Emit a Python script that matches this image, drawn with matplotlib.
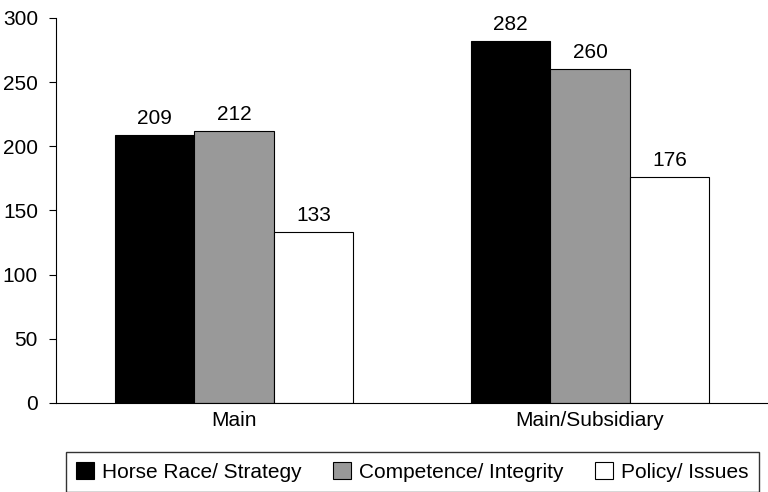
import numpy as np
import matplotlib.pyplot as plt

plt.rcParams['font.family'] = ['Liberation Sans', 'DejaVu Sans']

categories = ['Main', 'Main/Subsidiary']
series_names = ['Horse Race/ Strategy', 'Competence/ Integrity', 'Policy/ Issues']
horse_race = [209, 282]
competence = [212, 260]
policy = [133, 176]
colors = ['#000000', '#999999', '#ffffff']

fig = plt.figure(figsize=(7.68, 4.92), dpi=100)
ax = fig.add_axes([56 / 768, 1 - 403 / 492, 1 - 56 / 768, (403 - 18) / 492])

x = np.arange(len(categories))
width = 0.223
for i, (vals, name, col) in enumerate(zip([horse_race, competence, policy], series_names, colors)):
    bars = ax.bar(x + (i - 1) * width, vals, width, color=col, edgecolor='black',
                  linewidth=0.8, label=name)
    ax.bar_label(bars, padding=5, fontsize=15)

ax.set_xlim(-0.5, 1.5)
ax.set_ylim(0, 300)
ax.set_yticks(np.arange(0, 301, 50))
ax.set_xticks(x)
ax.set_xticklabels(categories)
ax.tick_params(axis='x', length=0, labelsize=15, pad=6)
ax.tick_params(axis='y', length=5, labelsize=15, pad=8)
ax.spines['top'].set_visible(False)
ax.spines['right'].set_visible(False)

leg = fig.legend(loc='upper left', bbox_to_anchor=(66 / 768, 1 - 452 / 492),
                 bbox_transform=fig.transFigure, ncol=3, fontsize=15, frameon=True,
                 fancybox=False, edgecolor='black', handlelength=0.85, handleheight=0.85,
                 handletextpad=0.4, columnspacing=1.5, borderpad=0.5, borderaxespad=0)
leg.get_frame().set_linewidth(1.0)

fig.savefig('out.png', dpi=100)
